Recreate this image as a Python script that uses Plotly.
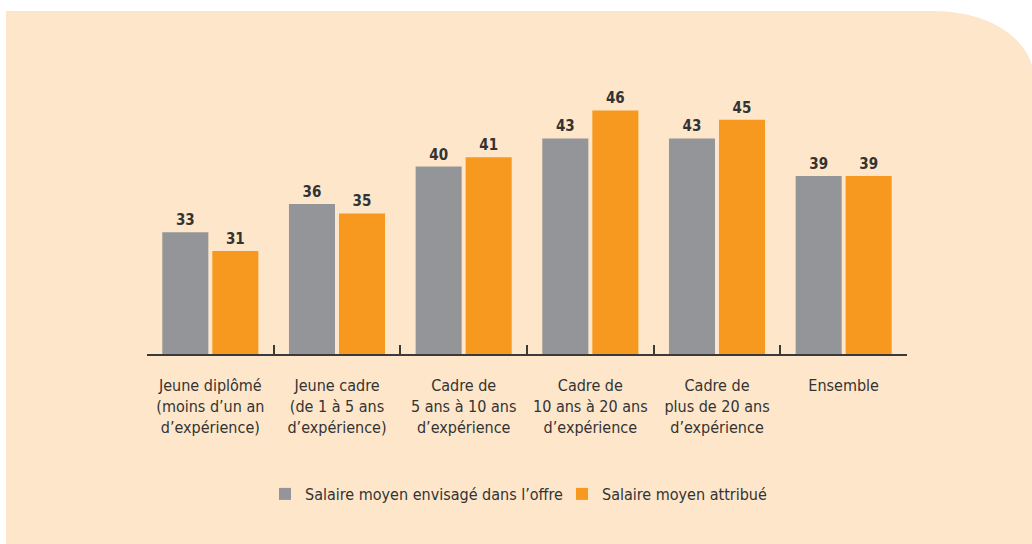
import plotly.graph_objects as go

categories = [
    "Jeune diplômé<br>(moins d\u2019un an<br>d\u2019expérience)",
    "Jeune cadre<br>(de 1 à 5 ans<br>d\u2019expérience)",
    "Cadre de<br>5 ans à 10 ans<br>d\u2019expérience",
    "Cadre de<br>10 ans à 20 ans<br>d\u2019expérience",
    "Cadre de<br>plus de 20 ans<br>d\u2019expérience",
    "Ensemble",
]
salaire_offre = [33, 36, 40, 43, 43, 39]
salaire_attribue = [31, 35, 41, 46, 45, 39]
series_names = ["Salaire moyen envisagé dans l\u2019offre", "Salaire moyen attribué"]

W, H = 1032, 544
L, R, T, B = 147, 125, 60, 190
PW, PH = W - L - R, H - T - B
Y0 = 20
PX_PER_UNIT = 9.37
Y1 = Y0 + PH / PX_PER_UNIT

FONT = "Liberation Sans Narrow, DejaVu Sans Condensed, Arial Narrow, sans-serif"
TXT = "#333333"
GRAY = "#939598"
ORANGE = "#F7981F"
BG = "#FDE6CA"


def px(x):
    return (x - L) / PW


def py(y):
    return (H - B - y) / PH


fig = go.Figure()
fig.add_trace(go.Bar(
    x=categories, y=salaire_offre, name=series_names[0],
    marker=dict(color=GRAY, line=dict(width=0)),
    text=salaire_offre, textposition="outside",
    textfont=dict(family=FONT, size=15, color=TXT, weight="bold"),
    cliponaxis=False, hoverinfo="skip",
))
fig.add_trace(go.Bar(
    x=categories, y=salaire_attribue, name=series_names[1],
    marker=dict(color=ORANGE, line=dict(width=0)),
    text=salaire_attribue, textposition="outside",
    textfont=dict(family=FONT, size=15, color=TXT, weight="bold"),
    cliponaxis=False, hoverinfo="skip",
))

bg_path = (
    f"M {px(6)},{py(11)} L {px(933)},{py(11)} "
    f"C {px(990)},{py(11)} {px(1034)},{py(40)} {px(1034)},{py(80)} "
    f"L {px(1034)},{py(550)} L {px(6)},{py(550)} Z"
)
fig.add_shape(type="path", path=bg_path, xref="paper", yref="paper",
              fillcolor=BG, line=dict(width=0), layer="below")

fig.update_layout(
    width=W, height=H,
    margin=dict(l=L, r=R, t=T, b=B, pad=0),
    paper_bgcolor="white", plot_bgcolor="rgba(0,0,0,0)",
    barmode="group", bargap=0.21, bargroupgap=0.08,
    font=dict(family=FONT, size=16, color=TXT),
    showlegend=True,
    legend=dict(
        orientation="h", x=px(265), xanchor="left", y=py(494), yanchor="middle",
        font=dict(family=FONT, size=16, color=TXT),
        bgcolor="rgba(0,0,0,0)", entrywidth=252, entrywidthmode="pixels",
        traceorder="normal",
    ),
    xaxis=dict(
        type="category", showline=True, linecolor="#3a3a3a", linewidth=1.5,
        ticks="inside", tickson="boundaries", ticklen=9, tickwidth=1.5,
        tickcolor="#3a3a3a", showgrid=False, zeroline=False,
        tickfont=dict(family=FONT, size=16, color=TXT),
        ticklabelstandoff=16, fixedrange=True,
    ),
    yaxis=dict(
        range=[Y0, Y1], visible=False, showgrid=False, zeroline=False,
        fixedrange=True,
    ),
)

fig.write_html(
    "out.html",
    config={"displayModeBar": False},
    post_script="document.body.style.margin='0';document.body.style.padding='0';",
)
